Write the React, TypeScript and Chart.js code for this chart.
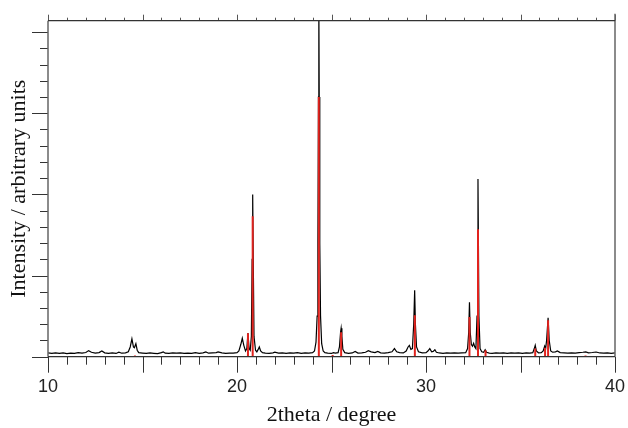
import React, { useEffect, useRef } from "react";
import { Chart, registerables } from "chart.js";

Chart.register(...registerables);

// Observed diffraction pattern: [2theta, intensity]
const observed: [number, number][] = [
  [10.0, 0.046], [10.2, 0.040], [10.4, 0.048], [10.6, 0.042], [10.8, 0.047], [11.0, 0.039],
  [11.2, 0.045], [11.4, 0.041], [11.6, 0.049], [11.8, 0.043], [12.0, 0.052], [12.15, 0.075],
  [12.3, 0.055], [12.5, 0.044], [12.7, 0.05], [12.85, 0.07], [13.0, 0.048], [13.2, 0.041],
  [13.4, 0.046], [13.6, 0.04], [13.75, 0.055], [13.9, 0.043], [14.1, 0.047], [14.25, 0.06],
  [14.35, 0.12], [14.44, 0.22], [14.52, 0.12], [14.57, 0.11], [14.65, 0.16], [14.72, 0.08],
  [14.8, 0.05], [15.0, 0.045], [15.2, 0.04], [15.4, 0.047], [15.6, 0.042], [15.8, 0.038],
  [16.0, 0.05], [16.1, 0.06], [16.2, 0.044], [16.4, 0.041], [16.6, 0.048], [16.8, 0.043],
  [17.0, 0.046], [17.2, 0.04], [17.4, 0.045], [17.6, 0.041], [17.8, 0.049], [18.0, 0.042],
  [18.2, 0.047], [18.35, 0.058], [18.5, 0.043], [18.7, 0.046], [18.9, 0.05], [19.0, 0.058],
  [19.2, 0.047], [19.4, 0.041], [19.6, 0.045], [19.8, 0.043], [20.0, 0.05], [20.1, 0.07],
  [20.2, 0.15], [20.28, 0.227], [20.36, 0.14], [20.45, 0.07], [20.52, 0.1], [20.58, 0.29],
  [20.64, 0.1], [20.7, 0.08], [20.76, 0.25], [20.8, 1.2], [20.83, 2.0], [20.86, 1.2],
  [20.9, 0.25], [20.98, 0.08], [21.05, 0.06], [21.12, 0.09], [21.18, 0.12], [21.25, 0.07],
  [21.35, 0.05], [21.5, 0.045], [21.7, 0.042], [21.9, 0.048], [22.0, 0.055], [22.2, 0.044],
  [22.4, 0.047], [22.6, 0.041], [22.8, 0.046], [23.0, 0.043], [23.2, 0.05], [23.4, 0.042],
  [23.6, 0.047], [23.8, 0.045], [24.0, 0.05], [24.1, 0.07], [24.18, 0.18], [24.24, 0.5],
  [24.28, 1.4], [24.31, 3.2], [24.33, 4.4], [24.35, 3.2], [24.38, 1.4], [24.42, 0.5],
  [24.48, 0.16], [24.56, 0.07], [24.65, 0.05], [24.8, 0.045], [25.0, 0.04], [25.1, 0.05],
  [25.2, 0.045], [25.35, 0.05], [25.42, 0.12], [25.48, 0.3], [25.51, 0.35], [25.55, 0.25],
  [25.6, 0.09], [25.7, 0.05], [25.9, 0.042], [26.1, 0.046], [26.25, 0.065], [26.4, 0.044],
  [26.6, 0.048], [26.8, 0.055], [26.95, 0.075], [27.1, 0.06], [27.3, 0.05], [27.45, 0.065],
  [27.6, 0.048], [27.8, 0.044], [28.0, 0.05], [28.2, 0.06], [28.33, 0.1], [28.45, 0.06],
  [28.6, 0.05], [28.8, 0.046], [28.95, 0.07], [29.05, 0.12], [29.12, 0.14], [29.2, 0.09],
  [29.28, 0.1], [29.35, 0.4], [29.4, 0.82], [29.44, 0.4], [29.5, 0.12], [29.6, 0.06],
  [29.8, 0.048], [30.0, 0.05], [30.1, 0.07], [30.2, 0.1], [30.3, 0.06], [30.38, 0.065],
  [30.47, 0.085], [30.55, 0.055], [30.7, 0.046], [30.9, 0.042], [31.1, 0.048], [31.3, 0.044],
  [31.5, 0.046], [31.7, 0.043], [31.9, 0.047], [32.1, 0.05], [32.2, 0.1], [32.26, 0.3],
  [32.3, 0.67], [32.34, 0.3], [32.4, 0.15], [32.46, 0.13], [32.52, 0.165], [32.58, 0.12],
  [32.64, 0.1], [32.7, 0.5], [32.75, 2.19], [32.8, 0.5], [32.86, 0.1], [32.95, 0.06],
  [33.05, 0.055], [33.13, 0.085], [33.2, 0.055], [33.35, 0.045], [33.5, 0.042], [33.7, 0.047],
  [33.9, 0.043], [34.1, 0.046], [34.3, 0.041], [34.5, 0.048], [34.7, 0.044], [34.9, 0.046],
  [35.1, 0.042], [35.3, 0.047], [35.5, 0.043], [35.65, 0.05], [35.73, 0.1], [35.78, 0.14],
  [35.84, 0.07], [35.95, 0.048], [36.1, 0.05], [36.2, 0.07], [36.28, 0.13], [36.33, 0.1],
  [36.38, 0.2], [36.46, 0.48], [36.52, 0.2], [36.6, 0.07], [36.7, 0.055], [36.85, 0.06],
  [36.95, 0.07], [37.1, 0.05], [37.3, 0.048], [37.5, 0.044], [37.7, 0.047], [37.9, 0.043],
  [38.1, 0.05], [38.3, 0.055], [38.45, 0.06], [38.6, 0.048], [38.8, 0.052], [39.0, 0.058],
  [39.2, 0.046], [39.4, 0.043], [39.6, 0.047], [39.8, 0.042], [40.0, 0.046],
];

// Calculated reflections (stick pattern)
const reflectionPositions = [14.6, 20.58, 20.83, 24.33, 25.06, 25.51, 29.41, 32.3, 32.75, 33.15, 35.78, 36.3, 36.46, 38.44];
const reflectionHeights = [0.015, 0.29, 1.73, 3.2, 0.02, 0.3, 0.51, 0.49, 1.57, 0.08, 0.1, 0.11, 0.45, 0.015];

const xLabels = [10, 20, 30, 40];
const X_MIN = 10;
const X_MAX = 40;
const Y_MAX = 4.14;

const frameTicks = {
  id: "frameTicks",
  afterDraw(chart: any) {
    const { ctx, chartArea: a, scales } = chart;
    const xs = scales.x;
    const ys = scales.y;
    ctx.save();
    ctx.lineWidth = 1;
    // y ticks (outside, left)
    ctx.strokeStyle = "#333";
    for (let i = 0; i <= 20; i++) {
      const v = i * 0.2;
      const py = Math.round(ys.getPixelForValue(v)) + 0.5;
      const len = i % 5 === 0 ? 16 : 8;
      ctx.beginPath();
      ctx.moveTo(a.left - len, py);
      ctx.lineTo(a.left, py);
      ctx.stroke();
    }
    // x ticks bottom (outside) and top (outside)
    for (let v = X_MIN; v <= X_MAX; v++) {
      const px = Math.round(xs.getPixelForValue(v)) + 0.5;
      const major = v % 5 === 0;
      ctx.strokeStyle = "#333";
      ctx.beginPath();
      ctx.moveTo(px, a.bottom);
      ctx.lineTo(px, a.bottom + (major ? 16 : 8));
      ctx.stroke();
      ctx.strokeStyle = "#555";
      ctx.beginPath();
      ctx.moveTo(px, a.top);
      ctx.lineTo(px, a.top - (major ? 6 : 3));
      ctx.stroke();
    }
    // frame
    ctx.lineWidth = 1.5;
    ctx.strokeStyle = "#666";
    ctx.beginPath();
    ctx.moveTo(a.left, a.top);
    ctx.lineTo(a.left, a.bottom);
    ctx.moveTo(a.right, a.top - 7);
    ctx.lineTo(a.right, a.bottom);
    ctx.stroke();
    ctx.strokeStyle = "#333";
    ctx.lineWidth = 1.3;
    ctx.beginPath();
    ctx.moveTo(a.left, a.top);
    ctx.lineTo(a.right, a.top);
    ctx.moveTo(a.left, a.bottom);
    ctx.lineTo(a.right, a.bottom);
    ctx.stroke();
    ctx.restore();
  },
};

export default function App() {
  const ref = useRef<HTMLCanvasElement | null>(null);
  useEffect(() => {
    document.body.style.margin = "0";
    const canvas = ref.current;
    if (!canvas) return;
    const stickData: any[] = [];
    reflectionPositions.forEach((p, i) => {
      stickData.push({ x: p, y: 0 });
      stickData.push({ x: p, y: reflectionHeights[i] });
      stickData.push({ x: p, y: null });
    });
    const chart = new Chart(canvas, {
      type: "line",
      data: {
        datasets: [
          {
            label: "calculated",
            data: stickData,
            borderColor: "rgb(225,35,30)",
            borderWidth: 2,
            pointRadius: 0,
            spanGaps: false,
            fill: false,
          },
          {
            label: "observed",
            data: observed.map(([x, y]) => ({ x, y })),
            borderColor: "#000",
            borderWidth: 1.2,
            pointRadius: 0,
            fill: false,
            tension: 0,
          },
        ],
      },
      options: {
        animation: false,
        responsive: false,
        devicePixelRatio: 1,
        layout: { padding: { top: 20.7, right: 13, left: 0, bottom: 0 } },
        plugins: { legend: { display: false }, tooltip: { enabled: false } },
        scales: {
          x: {
            type: "linear",
            position: "bottom",
            min: X_MIN,
            max: X_MAX,
            afterBuildTicks: (s: any) => {
              s.ticks = xLabels.map((v) => ({ value: v }));
            },
            grid: { display: false, drawTicks: false },
            border: { display: false },
            ticks: {
              font: { family: "'Liberation Sans', Arial, sans-serif", size: 18 },
              color: "#222",
              padding: 19.5,
              maxRotation: 0,
              autoSkip: false,
            },
            title: {
              display: true,
              text: "2theta / degree",
              font: { family: "'Liberation Serif', 'Times New Roman', serif", size: 22 },
              color: "#111",
              padding: { top: 0, bottom: 0 },
            },
            afterFit: (s: any) => {
              s.height = 71.3;
              s.paddingLeft = 0;
              s.paddingRight = 0;
            },
          },
          y: {
            type: "linear",
            min: 0,
            max: Y_MAX,
            grid: { display: false, drawTicks: false },
            border: { display: false },
            ticks: { display: false },
            title: {
              display: true,
              text: "Intensity / arbitrary units",
              font: { family: "'Liberation Serif', 'Times New Roman', serif", size: 22 },
              color: "#111",
              padding: { top: 6, bottom: 0 },
            },
            afterFit: (s: any) => {
              s.width = 48;
              s.paddingTop = 0;
              s.paddingBottom = 0;
            },
          },
        },
      },
      plugins: [frameTicks],
    });
    return () => chart.destroy();
  }, []);
  return (
    <div style={{ width: 628, height: 428, background: "#fff" }}>
      <canvas ref={ref} width={628} height={428} style={{ display: "block" }} />
    </div>
  );
}
